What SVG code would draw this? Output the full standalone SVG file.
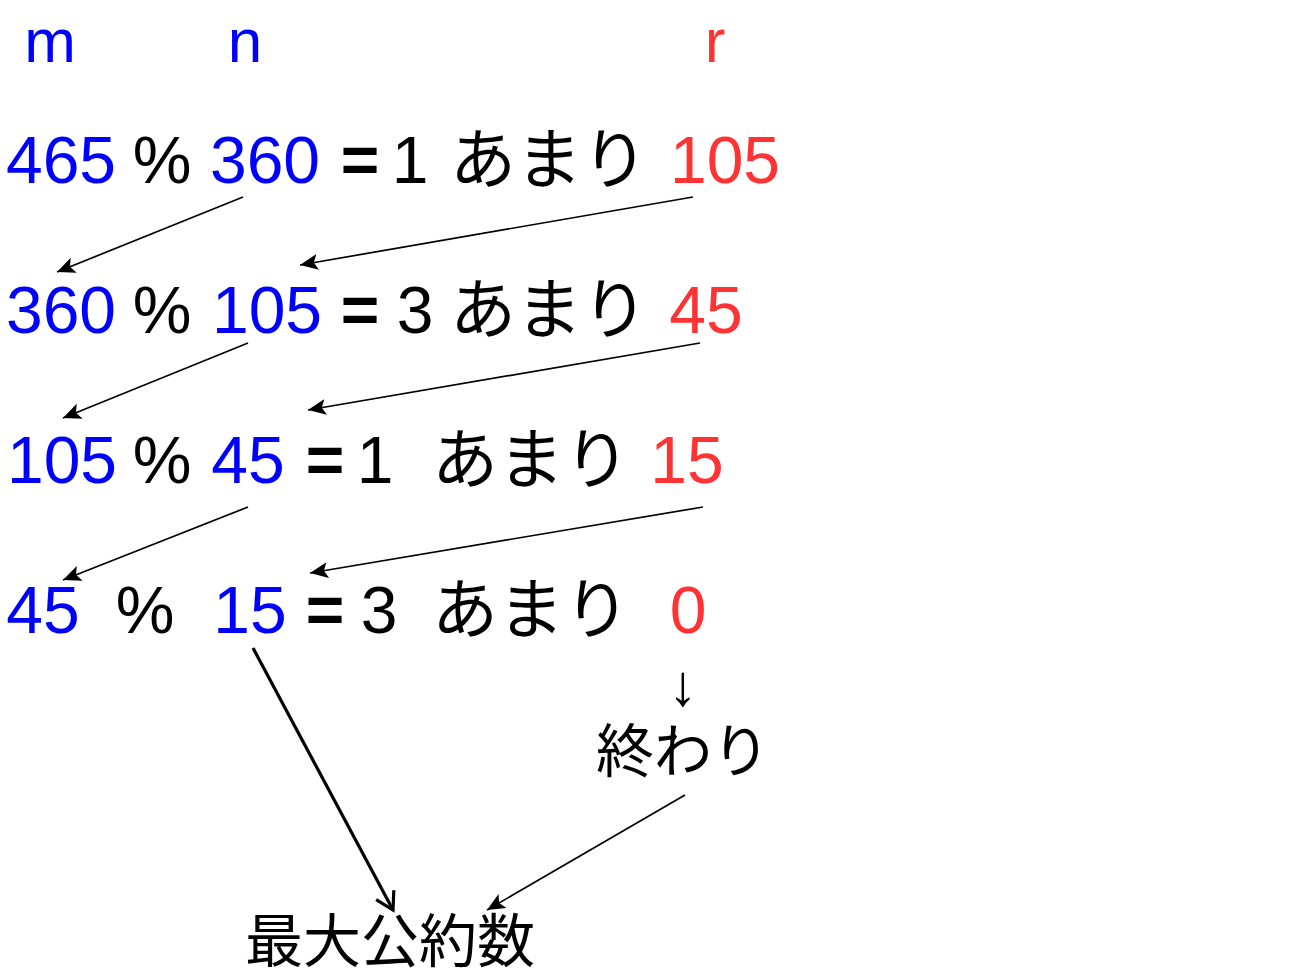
<svg xmlns="http://www.w3.org/2000/svg" width="1300" height="975" viewBox="0 0 1300 975">
<style>
text{font-family:"Liberation Sans","Noto Sans CJK JP",sans-serif;font-size:66px;text-anchor:middle}
.b{fill:#0000ff}
.r{fill:#ff3333}
.k{fill:#000}
.e{font-weight:bold}
.j{font-size:58px}
.c{stroke:#000;stroke-width:1.7;fill:none}
</style>
<defs>
<marker id="tri" markerUnits="userSpaceOnUse" markerWidth="22" markerHeight="18" refX="18" refY="9" orient="auto">
<path d="M0,1 L18,9 L0,17 L4,9 Z" fill="#000"/>
</marker>
<marker id="vee" markerUnits="userSpaceOnUse" markerWidth="26" markerHeight="26" refX="22" refY="13" orient="auto">
<path d="M5,3 L22,13 L5,23" fill="none" stroke="#000" stroke-width="3.2"/>
</marker>
</defs>
<rect width="1300" height="975" fill="#fff"/>
<g id="headers">
<text class="b" x="50" y="62" style="font-size:62px">m</text>
<text class="b" x="245" y="62" style="font-size:62px">n</text>
<text class="r" x="715" y="62" style="font-size:62px">r</text>
</g>
<g id="row1">
<text class="b" x="61" y="183">465</text>
<text class="k" x="162" y="183">%</text>
<text class="b" x="265" y="183">360</text>
<text class="k e" x="360" y="183">=</text>
<text class="k" x="410" y="183">1</text>
<text class="k" x="549" y="183">あまり</text>
<text class="r" x="725" y="183">105</text>
</g>
<g id="row2">
<text class="b" x="61" y="333">360</text>
<text class="k" x="162" y="333">%</text>
<text class="b" x="267" y="333">105</text>
<text class="k e" x="360" y="333">=</text>
<text class="k" x="415" y="333">3</text>
<text class="k" x="549" y="333">あまり</text>
<text class="r" x="706" y="333">45</text>
</g>
<g id="row3">
<text class="b" x="62" y="483">105</text>
<text class="k" x="162" y="483">%</text>
<text class="b" x="248" y="483">45</text>
<text class="k e" x="325" y="483">=</text>
<text class="k" x="375" y="483">1</text>
<text class="k" x="531" y="483">あまり</text>
<text class="r" x="687" y="483">15</text>
</g>
<g id="row4">
<text class="b" x="43" y="633">45</text>
<text class="k" x="145" y="633">%</text>
<text class="b" x="250" y="633">15</text>
<text class="k e" x="325" y="633">=</text>
<text class="k" x="379" y="633">3</text>
<text class="k" x="531" y="633">あまり</text>
<text class="r" x="688" y="633">0</text>
</g>
<g id="end">
<text class="k j" x="683" y="705">↓</text>
<text class="k j" x="683" y="772">終わり</text>
</g>
<g id="gcd">
<text class="k j" x="390" y="962">最大公約数</text>
</g>
<g id="connectors">
<line class="c" x1="243" y1="197" x2="57" y2="272" marker-end="url(#tri)"/>
<line class="c" x1="693" y1="197" x2="300" y2="265" marker-end="url(#tri)"/>
<line class="c" x1="248" y1="343" x2="63" y2="418" marker-end="url(#tri)"/>
<line class="c" x1="700" y1="343" x2="308" y2="410" marker-end="url(#tri)"/>
<line class="c" x1="248" y1="507" x2="63" y2="580" marker-end="url(#tri)"/>
<line class="c" x1="703" y1="507" x2="310" y2="573" marker-end="url(#tri)"/>
<line class="c" style="stroke-width:3.2" x1="253" y1="648" x2="393" y2="910" marker-end="url(#vee)"/>
<line class="c" x1="685" y1="795" x2="487" y2="910" marker-end="url(#tri)"/>
</g>
</svg>
